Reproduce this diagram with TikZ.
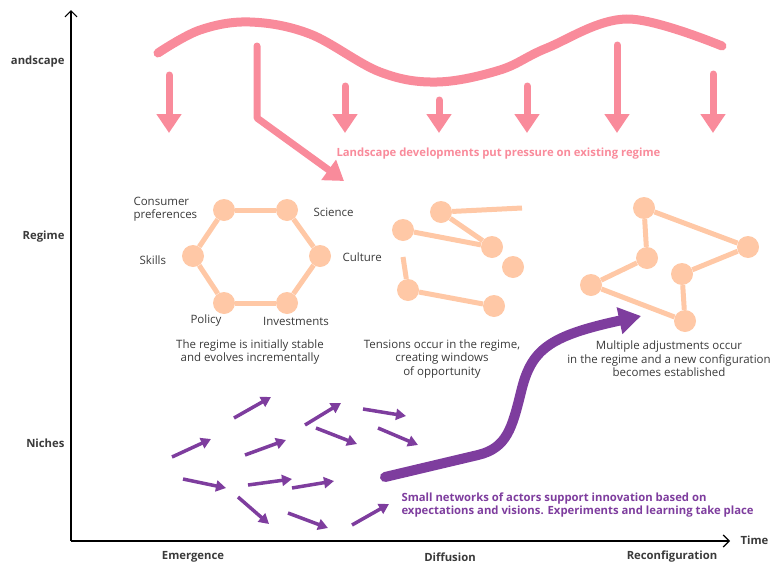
\documentclass[tikz,border=0pt]{standalone}
\usepackage{fontspec}
\setmainfont{Open Sans}
\usepackage{xcolor}
\usepackage{tikz}
\usetikzlibrary{
	arrows.meta,
	positioning,
	calc
}
\definecolor{pinkland}{HTML}{F98B9B}
\definecolor{peach}{HTML}{FFC8A6}
\definecolor{nichepurple}{HTML}{7E3D9E}
\definecolor{darktext}{HTML}{3A3A3A}

\begin{document}
\begin{tikzpicture}[
				x=1pt, y=-1pt,
				axis/.style={
					-{Straight Barb[width=12pt,length=6pt]}, line width=1.2pt, black
				},
				levellabel/.style={
					font=\fontsize{11.3}{13.5}\selectfont\bfseries, text=darktext
				},
				phaselabel/.style={
					levellabel, anchor=center
				},
				caption/.style={
					font=\fontsize{11.5}{13.5}\selectfont, text=darktext, align=center
				},
				actor/.style={
					circle, fill=peach, minimum size=22pt, inner sep=0pt
				},
				link/.style={
					draw=peach, line width=5pt
				},
				pressure/.style={
					-{Triangle[width=24pt,length=19pt]}, line width=7pt, pinkland, line cap=round
				},
				seed/.style={
					-{Triangle[width=11pt,length=10pt]}, line width=3.5pt, nichepurple
				},
				breakthrough/.style={
					-{Triangle[width=26pt,length=22pt]}, line width=10pt, nichepurple, line cap=round
				}
				]
				\useasboundingbox (0,0) rectangle (771,565);
				
				% axes
				\coordinate (origin) at (71,541);
				\coordinate (ytop) at (71,10);
				\coordinate (xend) at (730,541);
				\draw[axis] (origin) -- (ytop);
				\draw[axis] (origin) -- (xend);
				\node[levellabel, anchor=west] (time) at (737,540) {Time};
				
				% levels
				\node[levellabel, anchor=east] (landscape) at (68,62) {andscape};
				\node[levellabel, anchor=east] (regime) at (68,237) {Regime};
				\node[levellabel, anchor=east] (niches) at (68,443) {Niches};
				
				% phases
				\node[phaselabel] (emergence) at (193,557) {Emergence};
				\node[phaselabel] (diffusion) at (450,557) {Diffusion};
				\node[phaselabel] (reconfig) at (672,557) {Reconfiguration};
				
				% landscape wave
				\draw[pinkland, line width=9pt, line cap=round] plot[smooth, tension=0.6] coordinates {
					(158,53) (200,30) (250,22) (310,34) (380,72) (437,82) (500,70) (547,48) (627,19) (722,46)};
				
				% landscape pressure
				\coordinate (p1s) at (169,75);  \coordinate (p1e) at (169,133);
				\coordinate (p3s) at (345,86);  \coordinate (p3e) at (345,133);
				\coordinate (p4s) at (439,100); \coordinate (p4e) at (439,133);
				\coordinate (p5s) at (527,86);  \coordinate (p5e) at (527,133);
				\coordinate (p6s) at (617,45);  \coordinate (p6e) at (617,133);
				\coordinate (p7s) at (713,74);  \coordinate (p7e) at (713,133);
				\foreach \i in {1,3,4,5,6,7}
					\draw[pressure] (p\i s) -- (p\i e);
				\coordinate (p2s) at (257,46);
				\coordinate (p2b) at (257,118);
				\coordinate (p2e) at (344,181);
				\draw[pressure, line join=round] (p2s) -- (p2b) -- (p2e);
				\node[font=\fontsize{11.3}{13.5}\selectfont\bfseries, text=pinkland, anchor=west] (pressureText) at (333,154)
					{Landscape developments put pressure on existing regime};
				
				% stable regime
				\node[actor] (h1) at (224,210) {};
				\node[actor] (h2) at (287,210) {};
				\node[actor] (h3) at (320,256) {};
				\node[actor] (h4) at (287,303) {};
				\node[actor] (h5) at (224,303) {};
				\node[actor] (h6) at (193,256) {};
				\draw[link] (h1) -- (h2);
				\draw[link] (h2) -- (h3);
				\draw[link] (h3) -- (h4);
				\draw[link] (h4) -- (h5);
				\draw[link] (h5) -- (h6);
				\draw[link] (h6) -- (h1);
				\node[caption, align=left, anchor=west, font=\fontsize{11.5}{13}\selectfont] (consumer) at (130,209) {Consumer\\preferences};
				\node[caption, anchor=west] (science) at (310,212) {Science};
				\node[caption, anchor=west] (culture) at (339,257) {Culture};
				\node[caption, anchor=west] (skills) at (136,260) {Skills};
				\node[caption] (policy) at (206,321) {Policy};
				\node[caption] (investments) at (296,321) {Investments};
				\node[caption] (stableText) at (250,352) {The regime is initially stable\\and evolves incrementally};
				
				% tensions
				\node[actor] (t1) at (441,212) {};
				\node[actor] (t2) at (403,230) {};
				\node[actor] (t3) at (492,247) {};
				\node[actor] (t4) at (513,267) {};
				\node[actor] (t5) at (408,290) {};
				\node[actor] (t6) at (494,306) {};
				\coordinate (t1free) at (522,208);
				\coordinate (t5free) at (403,257);
				\draw[link] (t1) -- (t1free);
				\draw[link] (t1) -- (t3);
				\draw[link] (t2) -- (t3);
				\draw[link] (t5) -- (t5free);
				\draw[link] (t5) -- (t6);
				\node[caption] (tensionText) at (442,359) {Tensions occur in the regime,\\creating windows\\of opportunity};
				
				% new configuration
				\node[actor] (n1) at (644,208) {};
				\node[actor] (n2) at (748,247) {};
				\node[actor] (n3) at (647,258) {};
				\node[actor] (n4) at (682,274) {};
				\node[actor] (n5) at (591,285) {};
				\node[actor] (n6) at (685,321) {};
				\draw[link] (n1) -- (n2);
				\draw[link] (n1) -- (n3);
				\draw[link] (n2) -- (n4);
				\draw[link] (n3) -- (n5);
				\draw[link] (n5) -- (n6);
				\draw[link] (n4) -- (n6);
				\node[caption] (configText) at (669,359) {Multiple adjustments occur\\in the regime and a new configuration\\becomes established};
				
				% niche experiments
				\foreach \sx/\sy/\ex/\ey in {
					172/457/211/439, 234/418/271/397, 245/455/286/440,
					305/425/341/403, 316/428/357/444, 363/409/406/416,
					378/428/418/445, 183/479/226/488, 248/485/292/479,
					292/488/334/481, 238/497/269/524, 288/513/328/528,
					352/525/389/504}
					\draw[seed] (\sx,\sy) -- (\ex,\ey);
				
				% breakthrough
				\coordinate (nicheStart) at (385,477);
				\coordinate (nicheBend) at (478,455);
				\coordinate (regimeEntry) at (641,316);
				\draw[breakthrough] (nicheStart) -- (nicheBend)
					.. controls (507,448) and (512,428) .. (521,392)
					.. controls (531,350) and (548,336) .. (regimeEntry);
				\node[font=\fontsize{11.3}{13.5}\selectfont\bfseries, text=nichepurple, align=left, anchor=west] (nicheText) at (398,505)
					{Small networks of actors support innovation based on\\expectations and visions. Experiments and learning take place};
			\end{tikzpicture}
\end{document}
